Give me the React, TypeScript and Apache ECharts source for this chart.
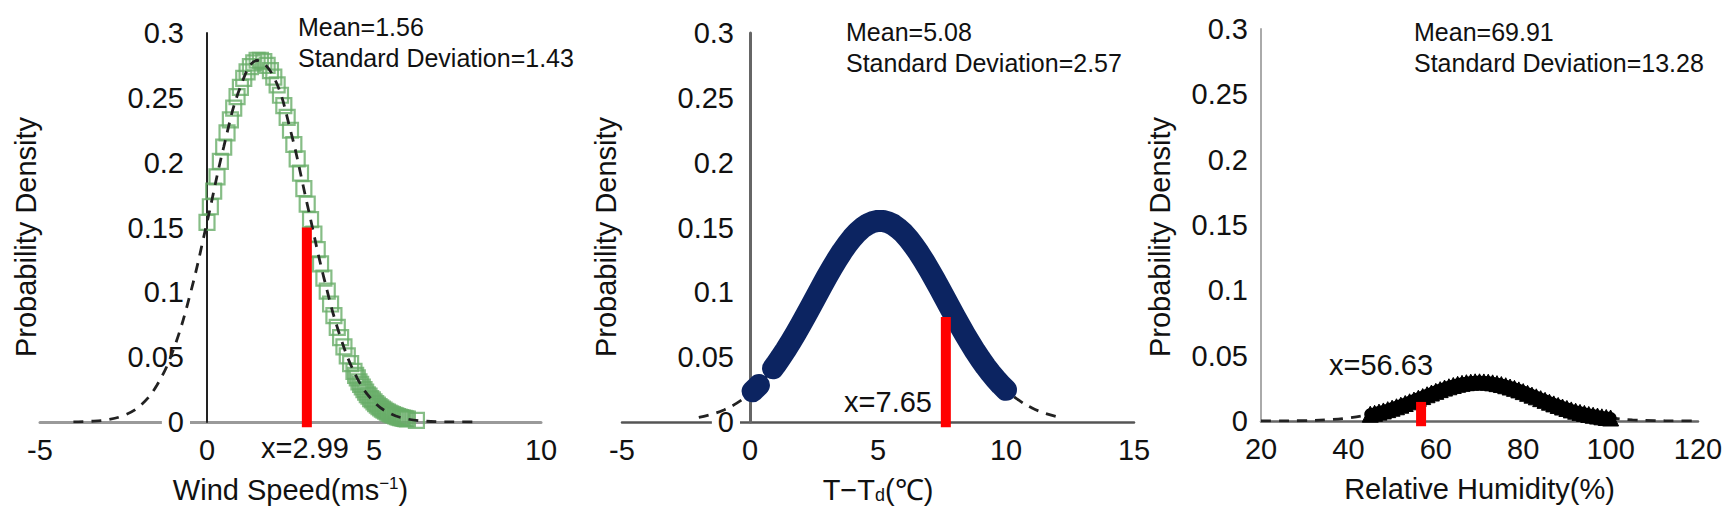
import { useEffect, useRef } from "react";
import * as echarts from "echarts";

const FONT = "'Liberation Sans', Arial, sans-serif";

// ---------- Panel 1: wind speed ----------
const windCurveX = [-4, -3.5, -3, -2.5, -2, -1.5, -1, -0.5, 0, 0.5, 1, 1.5, 2, 2.5, 3, 3.5, 4, 4.5, 5, 5.5, 6, 6.5, 7, 7.5, 8];
const windCurveY = [0.0001, 0.0005, 0.0017, 0.005, 0.0126, 0.0283, 0.0562, 0.0989, 0.1539, 0.212, 0.2584, 0.2788, 0.2661, 0.2248, 0.168, 0.1112, 0.0651, 0.0337, 0.0155, 0.0063, 0.0023, 0.0007, 0.0002, 0.00005, 0.00001];
const windMarkX = [0, 0.1, 0.2, 0.3, 0.4, 0.5, 0.6, 0.7, 0.8, 0.9, 1.0, 1.1, 1.2, 1.3, 1.4, 1.5, 1.6, 1.7, 1.8, 1.9, 2.0, 2.1, 2.2, 2.3, 2.4, 2.5, 2.6, 2.7, 2.8, 2.9, 3.0, 3.1, 3.2, 3.3, 3.4, 3.5, 3.6, 3.7, 3.8, 3.9, 4.0, 4.1, 4.2, 4.3, 4.4, 4.45, 4.5, 4.55, 4.6, 4.65, 4.7, 4.75, 4.8, 4.85, 4.9, 4.95, 5.0, 5.05, 5.1, 5.15, 5.2, 5.25, 5.3, 5.35, 5.4, 5.45, 5.5, 5.55, 5.6, 5.65, 5.7, 5.75, 5.8, 5.85, 5.9, 5.95, 6.0, 6.27];
const windMarkY = [0.154, 0.166, 0.178, 0.189, 0.201, 0.212, 0.223, 0.233, 0.242, 0.251, 0.258, 0.265, 0.27, 0.274, 0.277, 0.279, 0.279, 0.278, 0.275, 0.271, 0.266, 0.26, 0.252, 0.244, 0.235, 0.225, 0.214, 0.203, 0.192, 0.18, 0.168, 0.156, 0.145, 0.133, 0.122, 0.111, 0.101, 0.091, 0.082, 0.073, 0.065, 0.058, 0.051, 0.045, 0.039, 0.036, 0.034, 0.031, 0.029, 0.027, 0.025, 0.023, 0.021, 0.02, 0.018, 0.017, 0.0155, 0.0142, 0.013, 0.0119, 0.0109, 0.01, 0.0091, 0.0083, 0.0076, 0.0069, 0.0063, 0.0057, 0.0052, 0.0047, 0.0042, 0.0038, 0.0034, 0.0031, 0.0028, 0.0025, 0.0023, 0.0012];
const windObsX = 2.99;
const windObsY = 0.15;

// ---------- Panel 2: T - Td ----------
const dewCurveX = [-2, -1.5, -1, -0.5, 0, 0.5, 1, 1.5, 2, 2.5, 3, 3.5, 4, 4.5, 5, 5.5, 6, 6.5, 7, 7.5, 8, 8.5, 9, 9.5, 10, 10.5, 11, 11.5, 12];
const dewCurveY = [0.0035, 0.0059, 0.0095, 0.0147, 0.022, 0.0317, 0.044, 0.0588, 0.0757, 0.0938, 0.1119, 0.1285, 0.1421, 0.1513, 0.1551, 0.1531, 0.1456, 0.1332, 0.1174, 0.0996, 0.0814, 0.064, 0.0485, 0.0354, 0.0248, 0.0168, 0.0109, 0.0069, 0.0041];
const dewBlobX = [0.1, 0.35];
const dewBlobY = [0.0237, 0.0285];
const dewMarkX = [0.9, 1.0, 1.2, 1.4, 1.6, 1.8, 2.0, 2.2, 2.4, 2.6, 2.8, 3.0, 3.2, 3.4, 3.6, 3.8, 4.0, 4.2, 4.4, 4.6, 4.8, 5.0, 5.2, 5.4, 5.6, 5.8, 6.0, 6.2, 6.4, 6.6, 6.8, 7.0, 7.2, 7.4, 7.6, 7.8, 8.0, 8.2, 8.4, 8.6, 8.8, 9.0, 9.2, 9.4, 9.6, 9.8, 10.0];
const dewMarkY = [0.0414, 0.044, 0.0497, 0.0557, 0.0621, 0.0687, 0.0757, 0.0828, 0.0901, 0.0974, 0.1047, 0.1119, 0.1188, 0.1253, 0.1315, 0.1371, 0.1421, 0.1464, 0.1499, 0.1525, 0.1543, 0.1551, 0.155, 0.154, 0.1521, 0.1492, 0.1456, 0.1411, 0.136, 0.1303, 0.1241, 0.1174, 0.1105, 0.1033, 0.096, 0.0887, 0.0814, 0.0743, 0.0674, 0.0608, 0.0544, 0.0485, 0.0429, 0.0378, 0.0331, 0.0287, 0.0248];
const dewObsX = 7.65;
const dewObsY = 0.081;

// ---------- Panel 3: relative humidity ----------
const rhCurveX = [20, 25, 30, 35, 40, 45, 50, 55, 60, 65, 70, 75, 80, 85, 90, 95, 100, 105, 110, 115, 120];
const rhCurveY = [0.00003, 0.0001, 0.0003, 0.0009, 0.0024, 0.0052, 0.0098, 0.016, 0.0227, 0.0281, 0.03, 0.0279, 0.0225, 0.0158, 0.0096, 0.005, 0.0023, 0.0009, 0.0003, 0.0001, 0.00002];
const rhMarkX = [45, 46, 47, 48, 49, 50, 51, 52, 53, 54, 55, 56, 57, 58, 59, 60, 61, 62, 63, 64, 65, 66, 67, 68, 69, 70, 71, 72, 73, 74, 75, 76, 77, 78, 79, 80, 81, 82, 83, 84, 85, 86, 87, 88, 89, 90, 91, 92, 93, 94, 95, 96, 97, 98, 99, 100];
const rhMarkY = [0.0052, 0.0059, 0.0068, 0.0077, 0.0087, 0.0098, 0.0109, 0.0121, 0.0134, 0.0147, 0.016, 0.0174, 0.0187, 0.0201, 0.0214, 0.0227, 0.024, 0.0252, 0.0262, 0.0272, 0.0281, 0.0288, 0.0293, 0.0297, 0.03, 0.03, 0.0299, 0.0297, 0.0292, 0.0286, 0.0279, 0.027, 0.026, 0.025, 0.0238, 0.0225, 0.0212, 0.0198, 0.0185, 0.0171, 0.0158, 0.0144, 0.0131, 0.0119, 0.0107, 0.0096, 0.0085, 0.0075, 0.0066, 0.0058, 0.005, 0.0044, 0.0038, 0.0032, 0.0027, 0.0023];
const rhObsX = 56.63;
const rhObsY = 0.0146;

const obsBase = -0.004;
const means = [1.56, 5.08, 69.91];
const sds = [1.43, 2.57, 13.28];

const zip = (xs: number[], ys: number[]) => xs.map((x, i) => [x, ys[i]]);

function txt(text: string, x: number, y: number, size: number, align = "left", extra: any = {}) {
  return {
    type: "text",
    x,
    y,
    z: 100,
    ...extra,
    style: {
      text,
      fontSize: size,
      fontFamily: FONT,
      fill: "#111",
      align,
      verticalAlign: "middle",
      textAlign: align,
      textVerticalAlign: "middle",
    },
  };
}

export default function App() {
  const ref = useRef<HTMLDivElement>(null);
  useEffect(() => {
    document.body.style.margin = "0";
    const chart = echarts.init(ref.current!, null, { renderer: "svg" });

    const yFmt = (v: number) => String(+v.toFixed(2));
    // offset moves the y axis (line + labels) from the grid's left edge to x = 0
    const mkY = (gi: number, color: string, width: number, margin: number, offset: number) => ({
      gridIndex: gi,
      type: "value",
      min: 0,
      max: 0.3,
      interval: 0.05,
      z: 1,
      offset,
      axisLine: { show: true, onZero: false, lineStyle: { color, width } },
      axisTick: { show: false },
      splitLine: { show: false },
      axisLabel: {
        fontSize: 29,
        fontFamily: FONT,
        color: "#111",
        margin,
        formatter: yFmt,
        backgroundColor: "#fff",
        padding: [0, 6, 0, 6],
      },
    });
    const mkX = (gi: number, min: number, max: number, interval: number, color: string, width: number, name: string, rich: any) => ({
      gridIndex: gi,
      type: "value",
      min,
      max,
      interval,
      axisLine: { show: true, onZero: false, lineStyle: { color, width } },
      axisTick: { show: false },
      splitLine: { show: false },
      axisLabel: { fontSize: 29, fontFamily: FONT, color: "#111", margin: 13 },
      name,
      nameLocation: "middle",
      nameGap: 53,
      nameTextStyle: { rich },
    });

    const richBase = { t: { fontSize: 29, fontFamily: FONT, color: "#111" } };

    const dashed = { color: "#222", width: 2.8, type: [10, 8] };
    const redLine = (gi: number, x: number, y: number) => ({
      type: "line",
      xAxisIndex: gi,
      yAxisIndex: gi,
      data: [[x, obsBase], [x, y]],
      showSymbol: false,
      symbol: "none",
      clip: false,
      lineStyle: { color: "#ff0000", width: 10, cap: "butt" },
      z: 10,
    });

    const gridBase = { containLabel: false, outerBoundsMode: "none" };

    chart.setOption({
      animation: false,
      textStyle: { fontFamily: FONT },
      grid: [
        { ...gridBase, left: 40, top: 33, width: 501, height: 389 },
        { ...gridBase, left: 622, top: 33, width: 512, height: 389 },
        { ...gridBase, left: 1261, top: 29, width: 437, height: 392 },
      ],
      xAxis: [
        mkX(0, -5, 10, 5, "#9a9a9a", 3, "{t|Wind Speed(ms}{s|−1}{t|)}", { ...richBase, s: { fontSize: 17, fontFamily: FONT, color: "#111", verticalAlign: "top" } }),
        mkX(1, -5, 15, 5, "#555", 2.5, "{t|T−T}{d|d}{t|(℃)}", { ...richBase, d: { fontSize: 18, fontFamily: FONT, color: "#111", verticalAlign: "bottom" } }),
        mkX(2, 20, 120, 20, "#666", 2.5, "{t|Relative Humidity(%)}", richBase),
      ],
      yAxis: [mkY(0, "#222", 2, 17, -167), mkY(1, "#666", 3, 10, -128), mkY(2, "#aaa", 2, 7, 0)],
      series: [
        // panel 1
        {
          type: "scatter",
          xAxisIndex: 0,
          yAxisIndex: 0,
          data: zip(windMarkX, windMarkY),
          symbol: "rect",
          symbolSize: 15,
          itemStyle: { color: "rgba(0,0,0,0)", borderColor: "#68ac68", borderWidth: 2.2 },
          z: 3,
        },
        {
          type: "line",
          xAxisIndex: 0,
          yAxisIndex: 0,
          data: zip(windCurveX, windCurveY),
          smooth: 0.4,
          showSymbol: false,
          symbol: "none",
          lineStyle: dashed,
          z: 4,
        },
        redLine(0, windObsX, windObsY),
        // panel 2
        {
          type: "line",
          xAxisIndex: 1,
          yAxisIndex: 1,
          data: zip(dewCurveX, dewCurveY),
          smooth: 0.4,
          showSymbol: false,
          symbol: "none",
          lineStyle: dashed,
          z: 3,
        },
        {
          type: "line",
          xAxisIndex: 1,
          yAxisIndex: 1,
          data: zip(dewBlobX, dewBlobY),
          showSymbol: false,
          symbol: "none",
          lineStyle: { color: "#0c2461", width: 22, cap: "round", join: "round" },
          z: 4,
        },
        {
          type: "line",
          xAxisIndex: 1,
          yAxisIndex: 1,
          data: zip(dewMarkX, dewMarkY),
          showSymbol: false,
          symbol: "none",
          lineStyle: { color: "#0c2461", width: 22, cap: "round", join: "round" },
          z: 4,
        },
        redLine(1, dewObsX, dewObsY),
        // panel 3
        {
          type: "line",
          xAxisIndex: 2,
          yAxisIndex: 2,
          data: zip(rhCurveX, rhCurveY),
          smooth: 0.4,
          showSymbol: false,
          symbol: "none",
          lineStyle: dashed,
          z: 3,
        },
        {
          type: "line",
          xAxisIndex: 2,
          yAxisIndex: 2,
          data: zip(rhMarkX, rhMarkY),
          showSymbol: true,
          symbol: "triangle",
          symbolSize: 16,
          itemStyle: { color: "#000", borderColor: "#000", borderWidth: 1 },
          lineStyle: { color: "#000", width: 12, cap: "round", join: "round" },
          z: 4,
        },
        redLine(2, rhObsX, rhObsY),
      ],
      graphic: [
        txt("Probability Density", 26, 237, 29, "center", { rotation: Math.PI / 2 }),
        txt("Probability Density", 606, 237, 29, "center", { rotation: Math.PI / 2 }),
        txt("Probability Density", 1160, 237, 29, "center", { rotation: Math.PI / 2 }),
        txt(`Mean=${means[0]}`, 298, 27, 25),
        txt(`Standard Deviation=${sds[0]}`, 298, 58, 25),
        txt(`Mean=${means[1]}`, 846, 32, 25),
        txt(`Standard Deviation=${sds[1]}`, 846, 63, 25),
        txt(`Mean=${means[2]}`, 1414, 32, 25),
        txt(`Standard Deviation=${sds[2]}`, 1414, 63, 25),
        txt(`x=${windObsX}`, 305, 448, 29, "center"),
        txt(`x=${dewObsX}`, 932, 402, 29, "right"),
        txt(`x=${rhObsX}`, 1381, 365, 29, "center"),
      ],
    });
    return () => chart.dispose();
  }, []);
  return <div ref={ref} style={{ position: "fixed", left: 0, top: 0, width: 1725, height: 516, background: "#fff" }} />;
}
